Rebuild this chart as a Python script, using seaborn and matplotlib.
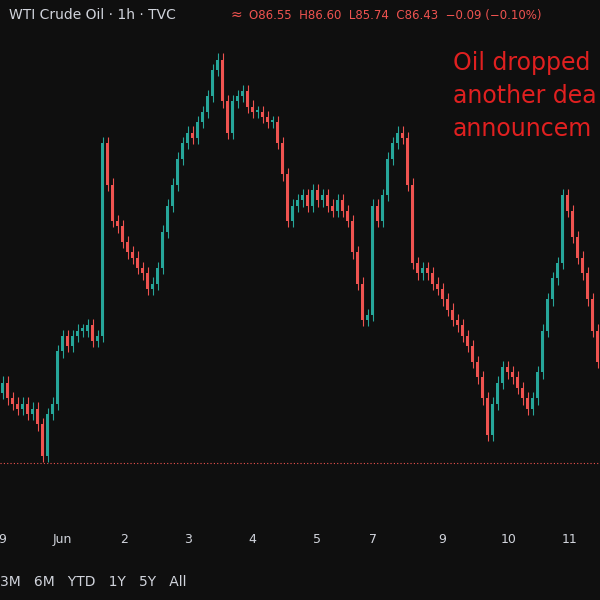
import numpy as np
import pandas as pd
import matplotlib
matplotlib.use("Agg")
import matplotlib.pyplot as plt
import seaborn as sns

# closing prices, one candle per ~2 hours
closes = [87.20, 87.05, 87.00, 86.95, 87.00, 86.90, 86.95, 86.80, 86.50, 86.90,
          87.00, 87.50, 87.65, 87.55, 87.65, 87.70, 87.70, 87.75, 87.60, 87.65,
          89.50, 89.10, 88.75, 88.70, 88.55, 88.45, 88.40, 88.30, 88.25, 88.10,
          88.15, 88.30, 88.65, 88.90, 89.10, 89.35, 89.50, 89.60, 89.55, 89.70,
          89.80, 89.95, 90.20, 90.30, 89.90, 89.60, 89.90, 89.95, 90.00, 89.85,
          89.80, 89.80, 89.75, 89.70, 89.70, 89.50, 89.20, 88.75, 88.90, 88.95,
          89.00, 88.90, 89.05, 88.95, 89.00, 88.90, 88.85, 88.95, 88.85, 88.75,
          88.45, 88.15, 87.80, 87.85, 88.90, 88.75, 89.00, 89.35, 89.50, 89.60,
          89.55, 89.10, 88.35, 88.25, 88.30, 88.25, 88.15, 88.10, 88.00, 87.90,
          87.80, 87.75, 87.65, 87.55, 87.40, 87.25, 87.05, 86.70, 87.00, 87.20,
          87.35, 87.30, 87.25, 87.15, 87.05, 86.95, 87.05, 87.30, 87.70, 88.00,
          88.20, 88.35, 89.00, 88.85, 88.60, 88.40, 88.25, 88.00, 87.70, 87.40]
day_labels = ["9", "Jun", "2", "3", "4", "5", "7", "9", "10", "11"]
day_pos = [0, 12, 24.4, 37.2, 50, 62.8, 74, 88, 101.2, 113.4]
last_price = 86.43

df = pd.DataFrame({"close": closes})
df["open"] = df["close"].shift(1).fillna(df["close"].iloc[0] - 0.1)
df["high"] = df[["open", "close"]].max(axis=1) + 0.06
df["low"] = df[["open", "close"]].min(axis=1) - 0.06
df["up"] = df["close"] >= df["open"]

bg = "#0f0f0f"
sns.set_style("dark", {"axes.facecolor": bg, "figure.facecolor": bg})
fig = plt.figure(figsize=(6, 6), dpi=100)
ax = fig.add_axes([0, 0.1, 1, 0.87])

up_c, dn_c = "#26a69a", "#ef5350"
colors = np.where(df["up"], up_c, dn_c)
x = np.arange(len(df))
ax.vlines(x, df["low"], df["high"], colors=colors, linewidth=0.8)
body = (df["close"] - df["open"]).abs().clip(lower=0.02)
ax.bar(x, body, bottom=df[["open", "close"]].min(axis=1), width=0.6, color=colors,
       edgecolor="none", linewidth=0)
ax.axhline(last_price, color=dn_c, linestyle=(0, (1, 2)), linewidth=0.8)

ax.set_xlim(-0.5, len(df) - 0.5)
ax.set_ylim(85.69, 90.70)
ax.set_yticks([])
ax.set_xticks(day_pos)
ax.set_xticklabels(day_labels, color="#d1d4dc", fontsize=9)
ax.tick_params(axis="x", length=0, pad=-5)
for s in ax.spines.values():
    s.set_visible(False)

fig.text(0.015, 0.975, "WTI Crude Oil · 1h · TVC", color="#d1d4dc", fontsize=10, va="center")
fig.text(0.385, 0.975, "≈", color="#ef5350", fontsize=10, va="center")
fig.text(0.415, 0.975, "O86.55  H86.60  L85.74  C86.43  −0.09 (−0.10%)",
         color="#ef5350", fontsize=8.5, va="center")
fig.text(0.755, 0.84, "Oil dropped\nanother dea\nannouncem", color="#e02020",
         fontsize=17, va="center", linespacing=1.45)
fig.text(0.0, 0.023, "3M   6M   YTD   1Y   5Y   All", color="#d1d4dc", fontsize=10)

fig.savefig("out.png", dpi=100, facecolor=bg)
